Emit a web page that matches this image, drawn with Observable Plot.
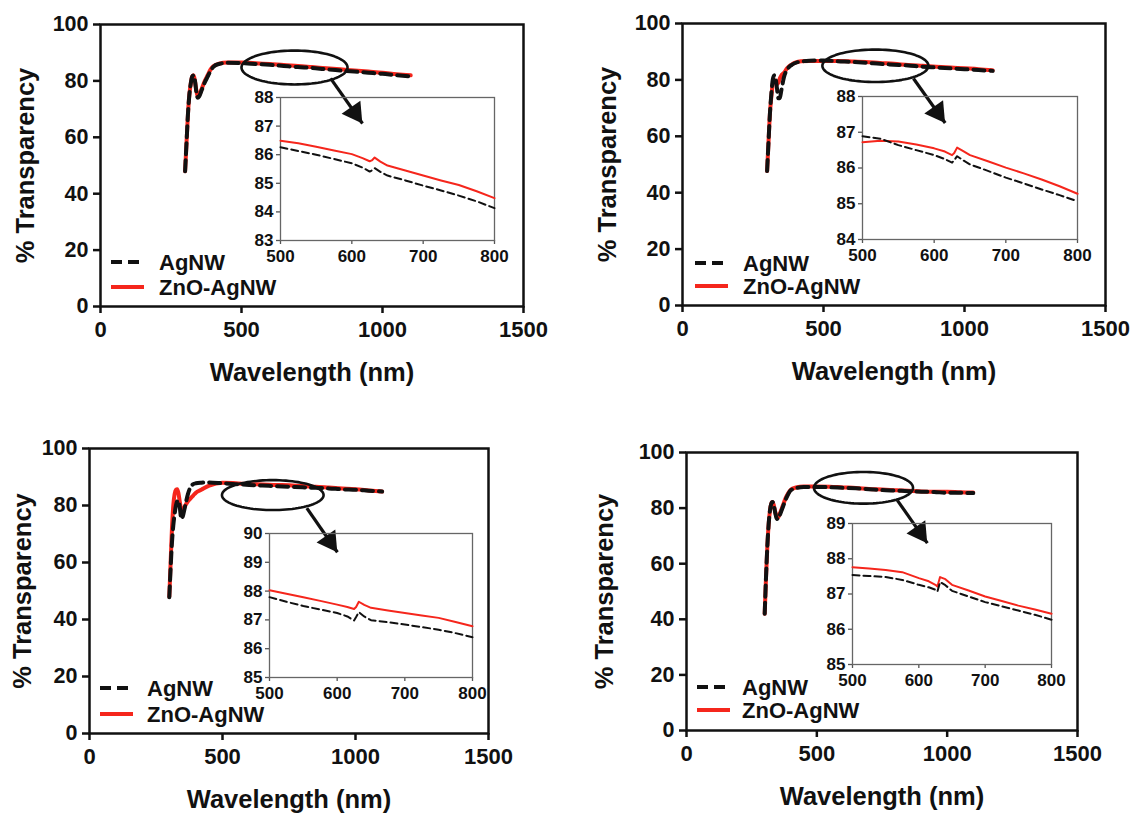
<!DOCTYPE html>
<html><head><meta charset="utf-8">
<script src="https://cdn.jsdelivr.net/npm/d3@7"></script>
<script src="https://cdn.jsdelivr.net/npm/@observablehq/plot@0.6"></script>
<style>
body{margin:0;background:#fff;}
#root{position:relative;width:1137px;height:814px;overflow:hidden;background:#fff;font-family:"Liberation Sans",Arial,sans-serif;}
</style></head><body><div id="root"></div>
<script>
// ---------- data ----------
const seriesNames = ["AgNW", "ZnO-AgNW"];
const xTicks = [0, 500, 1000, 1500];
const yTicks = [0, 20, 40, 60, 80, 100];
const insetXTicks = [500, 600, 700, 800];
const mainWl = [300,305,310,315,320,325,330,335,340,345,350,360,370,380,390,400,420,450,500,550,600,650,700,750,800,850,900,950,1000,1050,1100];
const p1AgNW = [48,58,68,75,79,81.5,82,80,76,74,74.5,77,79.5,81.5,83.5,85,86,86.4,86.3,86.0,85.7,85.3,84.9,84.6,84.1,83.7,83.3,82.9,82.5,82.0,81.6];
const p1ZnO  = [48,58,68,75,79,81.5,82,80,76.5,74.5,75,77.5,80,82,84,85.2,86.1,86.5,86.5,86.3,86.0,85.6,85.3,84.9,84.5,84.1,83.7,83.3,82.9,82.4,82.0];
const p2AgNW = [47.7,58,68,75,80,81.6,80.5,77,73.5,73.5,76,81,83.5,84.8,85.5,86,86.5,86.8,86.9,86.6,86.4,86.1,85.7,85.4,85.1,84.7,84.4,84.1,83.8,83.5,83.2];
const p2ZnO  = [47.7,58,68,74,78.5,80,79.5,78.5,79,80.5,81.5,82.5,84,85,85.6,86.1,86.6,86.7,86.7,86.7,86.55,86.35,86.0,85.7,85.3,85.0,84.7,84.4,84.1,83.8,83.4];
const p3AgNW = [47.8,58,67,73,77,80,81.5,81.7,79,75.3,76,80,84,86.5,87.5,87.8,88.0,88.1,87.8,87.5,87.2,87.0,86.8,86.6,86.4,86.2,86.0,85.7,85.5,85.2,84.9];
const p3ZnO  = [48,60,72,80,84,85.5,85.7,84,81,78.5,78.2,80,81.5,82.5,83.5,84.5,85.5,87,88.0,87.8,87.5,87.4,87.2,87.1,86.8,86.6,86.3,86.0,85.7,85.3,84.9];
const p4AgNW = [42,55,66,74,79,81.5,82.2,81,78.5,76.5,76,78,80.5,83,85,86.4,87.2,87.6,87.6,87.5,87.3,87.1,86.8,86.5,86.3,86.1,85.9,85.8,85.5,85.5,85.4];
const p4ZnO  = [42,55,66,74,79,81.5,82.2,81,78.8,77,76.5,78.5,81,83.5,85.3,86.6,87.4,87.8,87.8,87.7,87.45,87.25,86.9,86.7,86.45,86.2,86.0,85.9,85.9,85.7,85.6];

const insetWl = [500,525,550,575,600,615,625,628,632,640,650,675,700,725,750,775,800];
const p1InAgNW = [86.26,86.13,86.00,85.85,85.70,85.55,85.41,85.45,85.53,85.40,85.27,85.10,84.92,84.75,84.57,84.37,84.13];
const p1InZnO  = [86.49,86.40,86.28,86.15,86.02,85.88,85.77,85.80,85.90,85.76,85.62,85.45,85.27,85.10,84.94,84.72,84.48];
const p2InAgNW = [86.89,86.82,86.64,86.50,86.36,86.25,86.15,86.22,86.33,86.22,86.10,85.92,85.73,85.57,85.40,85.24,85.07];
const p2InZnO  = [86.72,86.76,86.74,86.66,86.55,86.46,86.36,86.42,86.57,86.48,86.36,86.19,86.01,85.85,85.68,85.49,85.28];
const p3InAgNW = [87.79,87.63,87.48,87.36,87.24,87.12,86.98,87.10,87.27,87.12,86.99,86.92,86.84,86.75,86.66,86.54,86.40];
const p3InZnO  = [88.03,87.91,87.79,87.66,87.53,87.45,87.38,87.45,87.63,87.52,87.42,87.33,87.24,87.15,87.07,86.93,86.78];
const p4InAgNW = [87.54,87.51,87.48,87.40,87.26,87.19,87.12,87.07,87.34,87.25,87.09,86.93,86.77,86.65,86.53,86.41,86.27];
const p4InZnO  = [87.76,87.72,87.68,87.62,87.45,87.36,87.26,87.21,87.48,87.42,87.26,87.10,86.93,86.80,86.67,86.56,86.44];
const insetYDomains = [[83, 88], [84, 88], [85, 90], [85, 89]];

// annotation ellipse (centre wavelength, centre %, half-width nm, half-height %)
const ellipseCx = [688, 684, 689, 679];
const ellipseCy = [84.75, 85.0, 83.65, 87.3];
const ellipseRx = [188, 188, 191, 190];
const ellipseRy = [6.0, 5.75, 5.25, 5.7];
// annotation arrows (start and tip, data units)
const arrowX1 = [816, 819, 817, 809];
const arrowY1 = [80.9, 80.5, 79.1, 82.8];
const arrowX2 = [929, 931.5, 932, 924];
const arrowY2 = [64.9, 64.7, 63.6, 67.4];

// ---------- layout / style ----------
const RED = "#f5261c", BLACK = "#111";
const FONT = '"Liberation Sans", Arial, sans-serif';
const mainLayout = [
  {left:100, top:24, w:423, h:282, ylab:-75},
  {left:682, top:23, w:423, h:282, ylab:-75},
  {left:89,  top:448, w:399, h:285, ylab:-67},
  {left:686, top:452, w:391, h:278, ylab:-82}
];
const insetLayout = [
  {left:280, top:97,  w:214, h:143},
  {left:862, top:96,  w:215, h:143},
  {left:269, top:533, w:203, h:144},
  {left:852, top:523, w:199, h:141}
];
const legendLayout = [
  {x:111, y1:262, y2:287, tx:159},
  {x:695, y1:263, y2:286, tx:743},
  {x:100, y1:688, y2:714, tx:147},
  {x:697, y1:687, y2:710, tx:742}
];
const mainSeries = [[p1AgNW,p1ZnO],[p2AgNW,p2ZnO],[p3AgNW,p3ZnO],[p4AgNW,p4ZnO]];
const insetSeries = [[p1InAgNW,p1InZnO],[p2InAgNW,p2InZnO],[p3InAgNW,p3InZnO],[p4InAgNW,p4InZnO]];

const root = document.getElementById("root");
function place(svg, left, top) {
  Object.assign(svg.style, {position:"absolute", left: left + "px", top: top + "px", background:"transparent", overflow:"visible"});
  root.appendChild(svg);
}

for (let i = 0; i < 4; i++) {
  const L = mainLayout[i];
  const mL = 100, mT = 15, mR = 32, mB = 90;
  const ag = mainWl.map((w, k) => ({x: w, y: mainSeries[i][0][k]}));
  const zn = mainWl.map((w, k) => ({x: w, y: mainSeries[i][1][k]}));
  const ell = d3.range(0, 97).map(k => {
    const t = k / 96 * 2 * Math.PI;
    return {x: ellipseCx[i] + ellipseRx[i] * Math.cos(t), y: ellipseCy[i] + ellipseRy[i] * Math.sin(t)};
  });
  const arr = [{x1: arrowX1[i], y1: arrowY1[i], x2: arrowX2[i], y2: arrowY2[i]}];
  const svg = Plot.plot({
    width: L.w + mL + mR, height: L.h + mT + mB,
    marginLeft: mL, marginTop: mT, marginRight: mR, marginBottom: mB,
    style: {fontFamily: FONT, fontWeight: "bold", color: BLACK},
    x: {domain: [0, 1500]},
    y: {domain: [0, 100]},
    marks: [
      Plot.axisX({ticks: xTicks, tickFormat: d => String(d), tickSize: 7, tickPadding: 8, strokeWidth: 2.5, fontSize: 22, fontWeight: "bold", label: null}),
      Plot.axisY({ticks: yTicks, tickFormat: d => String(d), tickSize: 7, tickPadding: 5, strokeWidth: 2.5, fontSize: 21.5, fontWeight: "bold", label: null}),
      Plot.frame({stroke: BLACK, strokeWidth: 2.5}),
      Plot.text(["Wavelength (nm)"], {text: d => d, frameAnchor: "bottom", textAnchor: "middle", lineAnchor: "middle", dy: 66, fontSize: 25.5, fontWeight: "bold", fill: BLACK}),
      Plot.text(["% Transparency"], {text: d => d, frameAnchor: "left", textAnchor: "middle", lineAnchor: "middle", dx: L.ylab, rotate: -90, fontSize: 25.5, fontWeight: "bold", fill: BLACK}),
      Plot.line(zn, {x: "x", y: "y", stroke: RED, strokeWidth: 4, curve: "monotone-x"}),
      Plot.line(ag, {x: "x", y: "y", stroke: BLACK, strokeWidth: 4, strokeDasharray: "11,6", curve: "monotone-x"}),
      Plot.line(ell, {x: "x", y: "y", stroke: BLACK, strokeWidth: 2.6, curve: "linear-closed"}),
      Plot.link(arr, {x1: "x1", y1: "y1", x2: "x2", y2: "y2", stroke: BLACK, strokeWidth: 3.2}),
      Plot.dot(arr, {x: "x2", y: "y2", symbol: "triangle", r: 8.5, fill: BLACK, stroke: "none", rotate: 145, dx: -7.7, dy: -10.8})
    ]
  });
  place(svg, L.left - mL, L.top - mT);

  // inset
  const I = insetLayout[i];
  const iL = 36, iT = 10, iR = 22, iB = 30;
  const iag = insetWl.map((w, k) => ({x: w, y: insetSeries[i][0][k]}));
  const izn = insetWl.map((w, k) => ({x: w, y: insetSeries[i][1][k]}));
  const yd = insetYDomains[i];
  const isvg = Plot.plot({
    width: I.w + iL + iR, height: I.h + iT + iB,
    marginLeft: iL, marginTop: iT, marginRight: iR, marginBottom: iB,
    style: {fontFamily: FONT, fontWeight: "bold", color: "#555"},
    x: {domain: [500, 800]},
    y: {domain: yd},
    marks: [
      Plot.axisX({ticks: insetXTicks, tickFormat: d => String(d), tickSize: 4, tickPadding: 5, strokeWidth: 1.3, stroke: "#555", fill: BLACK, fontSize: 17, fontWeight: "bold", label: null}),
      Plot.axisY({ticks: d3.range(yd[0], yd[1] + 1), tickFormat: d => String(d), tickSize: 4, tickPadding: 3, strokeWidth: 1.3, stroke: "#555", fill: BLACK, fontSize: 17, fontWeight: "bold", label: null}),
      Plot.frame({stroke: "#666", strokeWidth: 1.3}),
      Plot.line(izn, {x: "x", y: "y", stroke: RED, strokeWidth: 2}),
      Plot.line(iag, {x: "x", y: "y", stroke: BLACK, strokeWidth: 2, strokeDasharray: "7,4"})
    ]
  });
  place(isvg, I.left - iL, I.top - iT);

  // legend
  const G = legendLayout[i];
  const lg = d3.create("svg").attr("width", 200).attr("height", 60)
    .style("font-family", FONT).style("font-weight", "bold");
  const rows = [
    {name: seriesNames[0], y: 14, stroke: BLACK, dash: "11,6"},
    {name: seriesNames[1], y: 14 + (G.y2 - G.y1), stroke: RED, dash: null}
  ];
  rows.forEach(r => {
    lg.append("line").attr("x1", 0).attr("x2", 33).attr("y1", r.y).attr("y2", r.y)
      .attr("stroke", r.stroke).attr("stroke-width", 4).attr("stroke-dasharray", r.dash);
    lg.append("text").attr("x", G.tx - G.x).attr("y", r.y).attr("dy", "0.36em")
      .attr("font-size", 22).attr("fill", BLACK).text(r.name);
  });
  place(lg.node(), G.x, G.y1 - 14);
}
</script></body></html>
